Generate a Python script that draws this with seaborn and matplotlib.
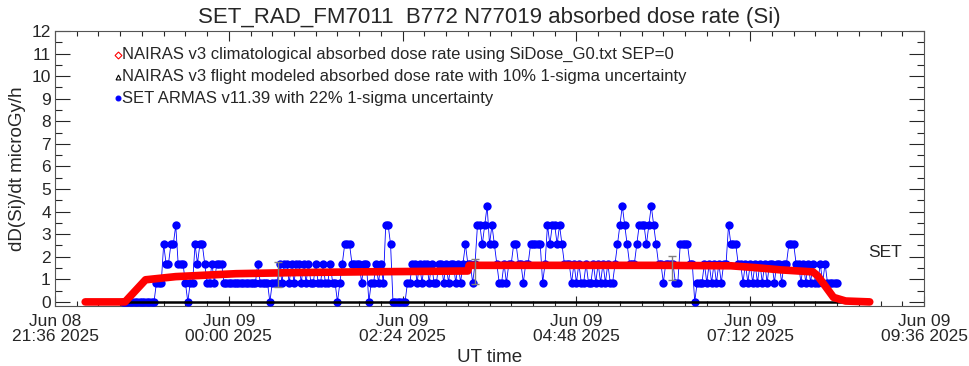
import numpy as np
import pandas as pd
import matplotlib
matplotlib.use("Agg")
import matplotlib.pyplot as plt
import seaborn as sns

# time axis: minutes after Jun 08 21:36 UT
TICK_MIN = [0, 144, 288, 432, 576, 720]
TICK_LABELS = ["Jun 08\n21:36 2025", "Jun 09\n00:00 2025", "Jun 09\n02:24 2025",
               "Jun 09\n04:48 2025", "Jun 09\n07:12 2025", "Jun 09\n09:36 2025"]

# SET ARMAS counts (one sample every 2 min starting at 22:32), dose quantum in microGy/h
SET_START = 56
SET_STEP = 2
SET_QUANTUM = 0.85
SET_COUNTS = [
    0, 0, 0, 0, 0, 0, 0, 0, 0, 0, 0, 0, 0, 0,
    1, 1, 1, 3, 2, 2, 3, 3, 4, 2, 2, 2, 1, 0, 1, 1, 3, 2, 3, 3, 2, 1, 1, 2, 1, 2, 2, 2, 1, 1,
    1, 1, 1, 1, 1, 1, 1, 1, 1, 1, 1, 1, 2, 1, 1, 1, 1, 0, 1, 1, 1,
    2, 1, 2, 2, 1, 2, 1, 2, 2, 1, 2, 1, 2, 1, 1, 2, 1, 1, 2, 1, 1, 2, 1, 1, 0, 1, 2,
    3, 3, 3, 2, 2, 2, 2, 1, 2, 2, 0, 1, 1, 2, 1, 2, 1, 4, 4, 3, 0, 0, 0, 0, 0, 0,
    1, 1, 2, 2, 1, 2, 1, 2, 2, 1, 2, 1, 1, 2, 2, 1, 2, 1, 2, 2, 1, 2, 1, 2, 3, 2, 2, 1, 2,
    4, 4, 3, 4, 5, 3, 4, 3, 2, 1, 1, 2, 1, 2, 2, 3, 3, 2, 2, 1, 2, 2, 3, 3, 3, 3, 3, 1, 2,
    4, 3, 4, 4, 3, 4, 3, 2, 2, 2, 1, 2, 1, 2, 1, 1, 2, 1, 1, 2, 1, 2, 1, 2, 1, 2, 1, 1, 2,
    3, 4, 5, 4, 3, 2, 2, 2, 3, 4, 4, 4, 3, 4, 5, 4, 3, 2, 2, 1, 2, 2, 2, 2, 1, 1, 3, 3, 3,
    3, 2, 2, 0, 1, 1, 1, 2, 1, 2, 1, 2, 1, 2, 1, 2, 2, 4, 3, 3, 3, 2, 2, 1, 2, 1, 2, 1, 2,
    1, 2, 1, 2, 1, 2, 2, 1, 2, 2, 1, 2, 2, 3, 3, 3, 2, 2, 1, 2, 1, 2, 1, 2, 1, 1, 2, 1, 2,
    1, 1, 1, 1, 1,
]

# NAIRAS v3 climatological absorbed dose rate
NAIRAS_MIN = [25, 58, 75, 100, 150, 200, 250, 300, 342, 343, 400, 500, 560, 580, 601, 628, 632, 645, 655, 675]
NAIRAS_DOSE = [0, 0, 0.98, 1.12, 1.25, 1.3, 1.33, 1.35, 1.37, 1.62, 1.62, 1.62, 1.6, 1.52, 1.42, 1.33, 1.15, 0.2, 0.04, 0.0]

# NAIRAS v3 flight modeled (sits on zero)
FLIGHT_MIN = [25, 675]
FLIGHT_DOSE = [0, 0]

# error bars
ERR_MIN = [185, 348, 511]
ERR_MID = [1.2, 1.35, 1.5]
ERR_HALF = [0.55, 0.55, 0.55]

set_t = SET_START + SET_STEP * np.arange(len(SET_COUNTS))
set_df = pd.DataFrame({"t": set_t, "dose": np.array(SET_COUNTS) * SET_QUANTUM})
nairas_df = pd.DataFrame({"t": NAIRAS_MIN, "dose": NAIRAS_DOSE})

sns.set_style("ticks")
plt.rcParams["font.family"] = ["Liberation Sans", "DejaVu Sans"]

fig = plt.figure(figsize=(9.69, 3.66), dpi=100)
ax = fig.add_axes([0.0568, 0.164, 0.8968, 0.7513])

sns.lineplot(data=set_df, x="t", y="dose", color="blue", lw=0.6, estimator=None,
             marker="o", markersize=6, markeredgewidth=0, ax=ax, zorder=3)
ax.plot(FLIGHT_MIN, FLIGHT_DOSE, color="black", lw=1.8, zorder=3.5)
sns.lineplot(data=nairas_df, x="t", y="dose", color="red", lw=5.5, estimator=None,
             ax=ax, zorder=4)
ax.errorbar(ERR_MIN, ERR_MID, yerr=ERR_HALF, fmt="none", ecolor="gray",
            elinewidth=1, capsize=3, zorder=5)

ax.set_xlim(0, 720)
ax.set_ylim(-0.18, 12)
ax.set_xticks(TICK_MIN)
ax.set_xticklabels(TICK_LABELS, fontsize=12.5, linespacing=0.95)
ax.set_xticks(np.arange(0, 721, 18), minor=True)
ax.set_yticks(range(0, 13))
ax.set_yticklabels([str(i) for i in range(13)], fontsize=12.5)
ax.set_yticks(np.arange(0, 12.01, 0.5), minor=True)
ax.tick_params(axis="y", which="major", direction="in", length=11, width=0.8, right=True, pad=3)
ax.tick_params(axis="y", which="minor", direction="in", length=5, width=0.8, right=True)
ax.tick_params(axis="x", which="major", direction="in", length=7, width=0.8, top=True, pad=6)
ax.tick_params(axis="x", which="minor", direction="in", length=3.5, width=0.8, top=True)
for s in ax.spines.values():
    s.set_linewidth(0.8)
    s.set_color("#555555")

ax.set_xlabel("UT time", fontsize=13.5, labelpad=4)
ax.set_ylabel("dD(Si)/dt microGy/h", fontsize=13.5, labelpad=4)
ax.set_title("SET_RAD_FM7011  B772 N77019 absorbed dose rate (Si)", fontsize=16, pad=6)

ax.text(688, 2.2, "SET", fontsize=12.5, ha="center", va="center")

# legend rows
legend_rows = [
    ("D", "red", "none", "NAIRAS v3 climatological absorbed dose rate using SiDose_G0.txt SEP=0"),
    ("^", "black", "none", "NAIRAS v3 flight modeled absorbed dose rate with 10% 1-sigma uncertainty"),
    ("o", "blue", "blue", "SET ARMAS v11.39 with 22% 1-sigma uncertainty"),
]
for i, (m, ec, fc, label) in enumerate(legend_rows):
    yy = 0.913 - i * 0.079
    ax.plot([0.0725], [yy], marker=m, markersize=3.5, markeredgecolor=ec,
            markerfacecolor=fc, markeredgewidth=0.8, transform=ax.transAxes)
    ax.text(0.077, yy, label, fontsize=12, va="center", ha="left", transform=ax.transAxes)

fig.savefig("out.png", dpi=100)
